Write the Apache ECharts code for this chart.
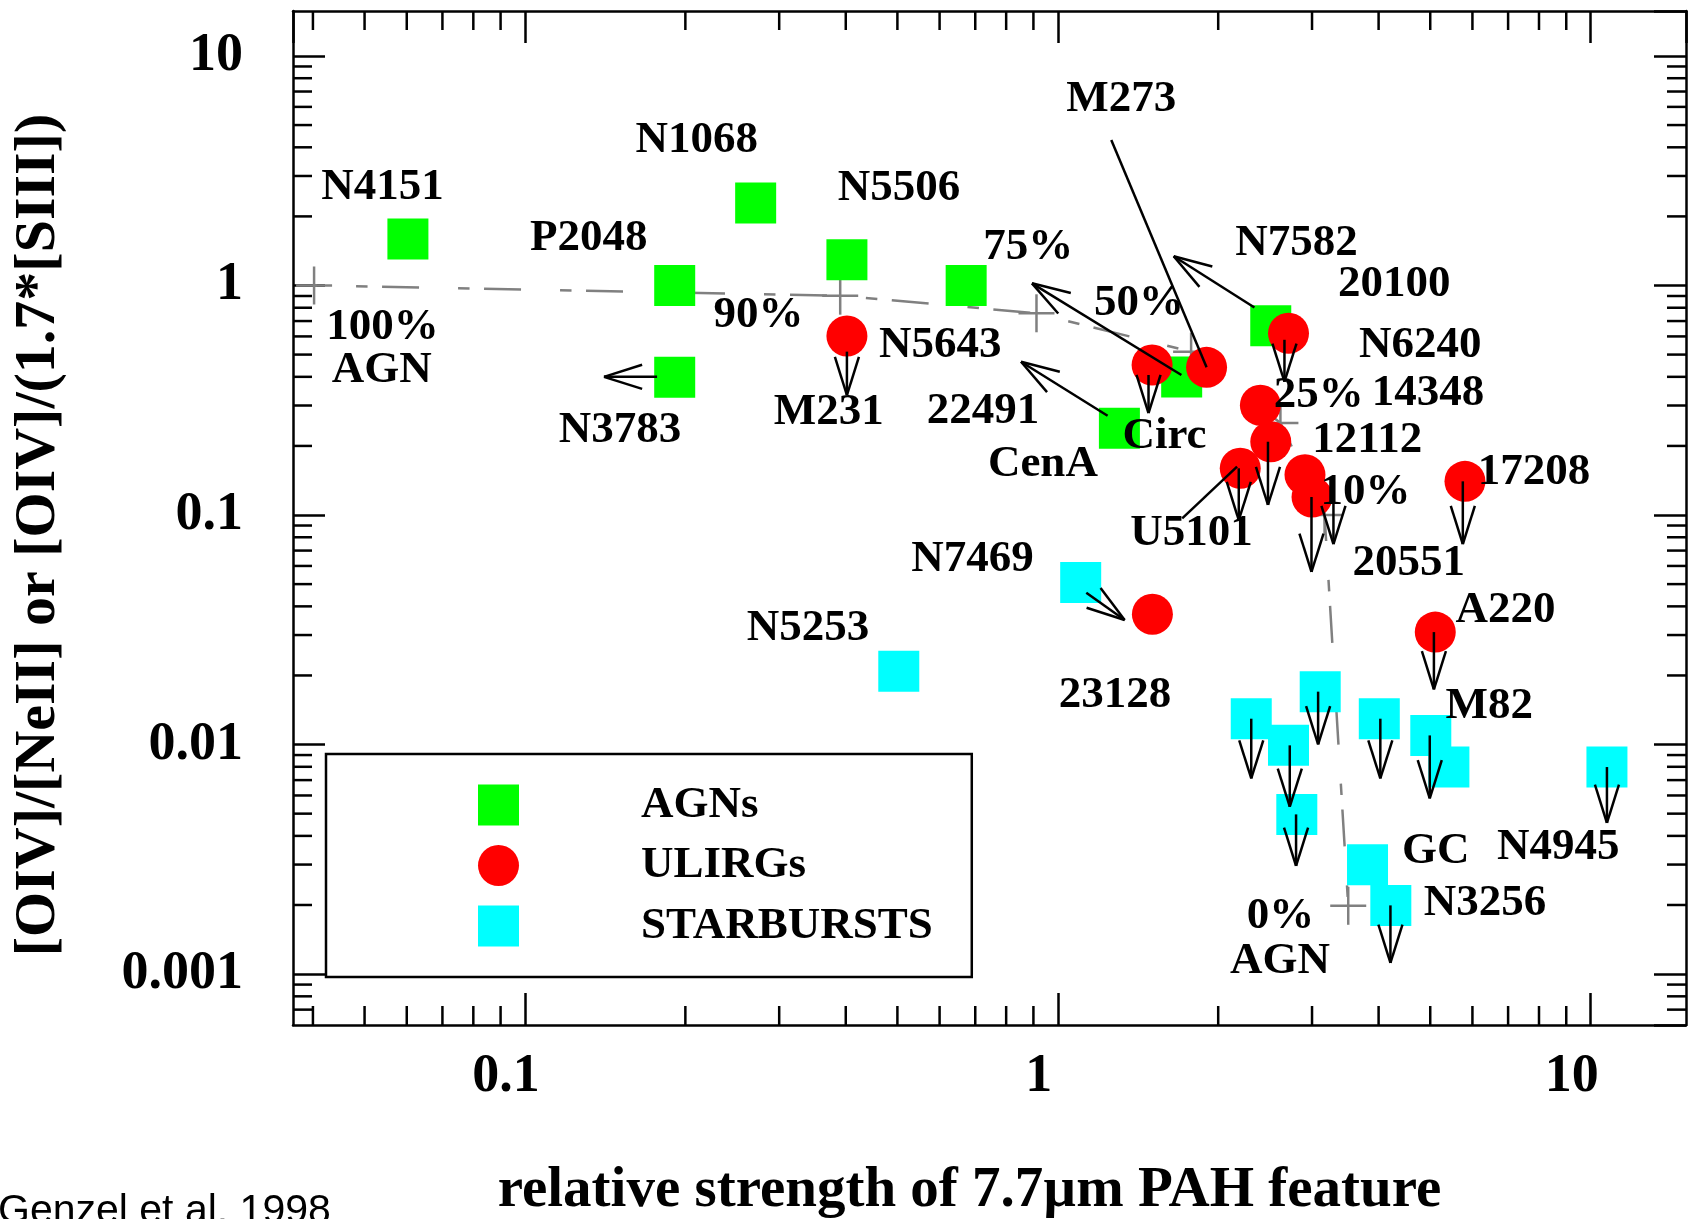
<!DOCTYPE html>
<html><head><meta charset="utf-8">
<script src="https://cdn.jsdelivr.net/npm/echarts@6/dist/echarts.min.js"></script>
<style>html,body{margin:0;padding:0;background:#fff}#c{width:1689px;height:1219px}</style>
</head><body><div id="c"></div>
<script>
// ---------------- data ----------------
// AGNs (green squares)
const agnX = [0.0603, 0.191, 0.271, 0.402, 0.673, 0.191, 1.305, 1.708, 2.51];
const agnY = [1.594, 1.0, 2.288, 1.295, 1.0, 0.398, 0.2386, 0.399, 0.6675];
// ULIRGs (red circles)
const ulirgX = [0.402, 1.503, 1.902, 2.71, 2.40, 2.51, 2.20, 2.91, 3.00, 5.81, 5.11, 1.505];
const ulirgY = [0.6026, 0.4503, 0.440, 0.619, 0.3006, 0.2086, 0.1598, 0.1498, 0.1198, 0.1402, 0.0309, 0.03696];
// Starbursts (cyan squares)
const sbX = [1.104, 0.503, 2.307, 2.71, 2.809, 3.108, 4.012, 5.012, 5.42, 10.73, 3.813, 4.217];
const sbY = [0.0508, 0.02088, 0.01296, 0.00992, 0.004963, 0.0170, 0.01296, 0.01096, 0.00798, 0.00798, 0.002994, 0.001992];
// AGN-fraction mixing line (100% ... 0%)
const mixX = [0.0402, 0.3905, 0.912, 1.779, 2.617, 3.167, 3.508];
const mixY = [1.0, 0.903, 0.7567, 0.5147, 0.2518, 0.1, 0.001984];
// arrows: [x1, y1, x2, y2, hasHead]
const arrows = [
  [0.402, 0.515, 0.402, 0.3333, 1],
  [1.48, 0.4074, 1.48, 0.2782, 1],
  [2.663, 0.58, 2.663, 0.381, 1],
  [2.48, 0.2086, 2.48, 0.1106, 1],
  [2.186, 0.1598, 2.186, 0.0951, 1],
  [2.993, 0.1198, 2.993, 0.0566, 1],
  [3.291, 0.1378, 3.291, 0.0747, 1],
  [5.756, 0.1402, 5.756, 0.0747, 1],
  [5.08, 0.0309, 5.08, 0.0174, 1],
  [2.307, 0.01296, 2.307, 0.00712, 1],
  [2.725, 0.00992, 2.725, 0.00536, 1],
  [2.80, 0.004963, 2.80, 0.002964, 1],
  [3.08, 0.0170, 3.08, 0.01002, 1],
  [4.03, 0.01296, 4.03, 0.00712, 1],
  [4.99, 0.01096, 4.99, 0.005829, 1],
  [10.73, 0.00798, 10.73, 0.004563, 1],
  [4.21, 0.001992, 4.21, 0.00112, 1],
  [0.177, 0.40, 0.1407, 0.40, 1],
  [1.24, 0.2708, 0.8532, 0.4656, 1],
  [1.706, 0.4074, 0.8945, 1.022, 1],
  [2.339, 0.802, 1.650, 1.341, 1],
  [1.131, 0.04587, 1.335, 0.03487, 1],
  [1.26, 4.305, 1.902, 0.44, 0],
  [1.712, 0.0967, 2.17, 0.1624, 0]
];
// text annotations: [text, x, y]
const annotations = [
  ['N4151', 0.05404, 2.741], ['100%', 0.05404, 0.6727], ['AGN', 0.05383, 0.437],
  ['P2048', 0.1317, 1.643], ['N3783', 0.1508, 0.2393], ['N1068', 0.21, 4.379],
  ['N5506', 0.5035, 2.722], ['90%', 0.2744, 0.7567], ['75%', 0.8805, 1.501],
  ['N5643', 0.6019, 0.5645], ['M231', 0.3718, 0.2868], ['22491', 0.7235, 0.2891],
  ['CenA', 0.9376, 0.1707], ['M273', 1.315, 6.648], ['50%', 1.421, 0.8577],
  ['Circ', 1.586, 0.2258], ['N7582', 2.806, 1.566], ['20100', 4.278, 1.039],
  ['N6240', 4.787, 0.5645], ['25%', 3.09, 0.3391], ['14348', 4.95, 0.3477],
  ['12112', 3.808, 0.2176], ['17208', 7.825, 0.1571], ['10%', 3.78, 0.1285],
  ['20551', 4.558, 0.06301], ['A220', 6.925, 0.03922], ['U5101', 1.782, 0.08517],
  ['M82', 6.454, 0.01497], ['GC', 5.122, 0.003516], ['N4945', 8.69, 0.003659],
  ['N3256', 6.338, 0.002074], ['0%', 2.617, 0.001823], ['AGN', 2.612, 0.00117],
  ['N7469', 0.6914, 0.06568], ['N5253', 0.3398, 0.03293], ['23128', 1.281, 0.01685]
];
// axis ticks
const xTickVals = [0.1, 1, 10];
const xTickText = ['0.1', '1', '10'];
const yTickVals = [0.001, 0.01, 0.1, 1, 10];
const yTickText = ['0.001', '0.01', '0.1', '1', '10'];
const xMinor = [0.04, 0.05, 0.06, 0.07, 0.08, 0.09, 0.2, 0.3, 0.4, 0.5, 0.6, 0.7, 0.8, 0.9, 2, 3, 4, 5, 6, 7, 8, 9];
const yMinor = [0.0007, 0.0008, 0.0009, 0.002, 0.003, 0.004, 0.005, 0.006, 0.007, 0.008, 0.009,
  0.02, 0.03, 0.04, 0.05, 0.06, 0.07, 0.08, 0.09, 0.2, 0.3, 0.4, 0.5, 0.6, 0.7, 0.8, 0.9, 2, 3, 4, 5, 6, 7, 8, 9];

// ---------------- chart ----------------
const SERIF = 'Liberation Serif';
const zip = (a, b) => a.map((v, i) => [v, b[i]]);
function tickFmt(vals, txt) {
  return v => { const i = vals.findIndex(t => Math.abs(Math.log10(v / t)) < 1e-6); return i >= 0 ? txt[i] : ''; };
}
const lineStyleBlack = { stroke: '#000', lineWidth: 2.5 };
const axisCommon = {
  type: 'log', logBase: 10,
  axisLine: { show: true, onZero: false, lineStyle: { color: '#000', width: 2.5 } },
  axisTick: { show: true, inside: true, length: 32, lineStyle: { color: '#000', width: 2.5 } },
  splitLine: { show: false }, minorTick: { show: false }
};
const chart = echarts.init(document.getElementById('c'), null, { renderer: 'canvas' });
chart.setOption({
  animation: false,
  backgroundColor: '#fff',
  grid: { left: 293, right: 3, top: 11, bottom: 194, containLabel: false, outerBoundsMode: 'none' },
  xAxis: [
    Object.assign({}, axisCommon, {
      position: 'bottom', min: 0.0367, max: 15.1,
      axisLabel: { show: true, fontFamily: SERIF, fontWeight: 'bold', fontSize: 54, color: '#000', margin: 25,
        padding: [0, 38, 0, 0], formatter: tickFmt(xTickVals, xTickText), showMinLabel: false, showMaxLabel: false },
      name: 'relative strength of 7.7µm PAH feature', nameLocation: 'middle', nameGap: 138,
      nameTextStyle: { fontFamily: SERIF, fontWeight: 'bold', fontSize: 57, color: '#000', padding: [0, 40, 0, 0] }
    }),
    Object.assign({}, axisCommon, { position: 'top', min: 0.0367, max: 15.1, axisLabel: { show: false } })
  ],
  yAxis: [
    Object.assign({}, axisCommon, {
      position: 'left', min: 0.0006, max: 15.7,
      axisLabel: { show: true, fontFamily: SERIF, fontWeight: 'bold', fontSize: 54, color: '#000', margin: 50,
        padding: [0, 0, 12, 0], formatter: tickFmt(yTickVals, yTickText), showMinLabel: false, showMaxLabel: false },
      name: '[OIV]/[NeII] or [OIV]/(1.7*[SIII])', nameLocation: 'middle', nameGap: 225, nameRotate: 90,
      nameTextStyle: { fontFamily: SERIF, fontWeight: 'bold', fontSize: 58, color: '#000', padding: [0, 34, 0, 0] }
    }),
    Object.assign({}, axisCommon, { position: 'right', min: 0.0006, max: 15.7, axisLabel: { show: false } })
  ],
  legend: {
    orient: 'vertical', left: 326, top: 754,
    data: ['AGNs', 'ULIRGs', 'STARBURSTS'],
    itemWidth: 41, itemHeight: 41, itemGap: 1.5,
    padding: [21.5, 39, 21.5, 152],
    borderColor: '#000', borderWidth: 2.5, backgroundColor: '#fff',
    selectedMode: false,
    textStyle: { fontFamily: SERIF, fontWeight: 'bold', fontSize: 45, color: '#000',
      backgroundColor: 'rgba(255,255,255,0)', padding: [0, 0, 14, 117] }
  },
  graphic: [{
    type: 'text', x: -2, y: 1191, silent: true,
    style: { text: 'Genzel et al. 1998', fontFamily: 'Liberation Sans', fontSize: 41, fill: '#000', verticalAlign: 'top', align: 'left' }
  }],
  series: [
    { type: 'line', name: 'mix', data: zip(mixX, mixY), symbol: 'none', silent: true, z: 1,
      lineStyle: { color: '#808080', width: 2.5, type: [37, 39, 11.5, 14.5], dashOffset: 34 } },
    { type: 'custom', name: 'crosses', data: zip(mixX, mixY), silent: true, z: 1,
      renderItem(params, api) {
        const p = api.coord([api.value(0), api.value(1)]);
        const st = { stroke: '#808080', lineWidth: 2.5 };
        return { type: 'group', children: [
          { type: 'line', shape: { x1: p[0] - 18, y1: p[1], x2: p[0] + 18, y2: p[1] }, style: st },
          { type: 'line', shape: { x1: p[0], y1: p[1] - 19, x2: p[0], y2: p[1] + 19 }, style: st }
        ] };
      } },
    { type: 'custom', name: 'xminor', data: xMinor.map(v => [v, 1]), silent: true, z: 5,
      renderItem(params, api) {
        const cs = params.coordSys; const x = api.coord([api.value(0), 1])[0];
        const b = cs.y + cs.height;
        return { type: 'group', children: [
          { type: 'line', shape: { x1: x, y1: b, x2: x, y2: b - 19 }, style: lineStyleBlack },
          { type: 'line', shape: { x1: x, y1: cs.y, x2: x, y2: cs.y + 19 }, style: lineStyleBlack }
        ] };
      } },
    { type: 'custom', name: 'yminor', data: yMinor.map(v => [1, v]), silent: true, z: 5,
      renderItem(params, api) {
        const cs = params.coordSys; const y = api.coord([1, api.value(1)])[1];
        const r = cs.x + cs.width;
        return { type: 'group', children: [
          { type: 'line', shape: { x1: cs.x, y1: y, x2: cs.x + 19, y2: y }, style: lineStyleBlack },
          { type: 'line', shape: { x1: r, y1: y, x2: r - 19, y2: y }, style: lineStyleBlack }
        ] };
      } },
    { type: 'scatter', name: 'AGNs', data: zip(agnX, agnY), symbol: 'rect', symbolSize: 41, z: 2, silent: true,
      itemStyle: { color: '#00ff00', opacity: 1 }, emphasis: { disabled: true } },
    { type: 'scatter', name: 'STARBURSTS', data: zip(sbX, sbY), symbol: 'rect', symbolSize: 41, z: 2, silent: true,
      itemStyle: { color: '#00ffff', opacity: 1 }, emphasis: { disabled: true } },
    { type: 'scatter', name: 'ULIRGs', data: zip(ulirgX, ulirgY), symbol: 'circle', symbolSize: 41, z: 2, silent: true,
      itemStyle: { color: '#ff0000', opacity: 1 }, emphasis: { disabled: true } },
    { type: 'custom', name: 'arrows', data: arrows.map(a => [a[0], a[1], a[2], a[3]]), encode: { x: [0, 2], y: [1, 3] },
      silent: true, z: 3,
      renderItem(params, api) {
        const a = arrows[params.dataIndex];
        const p1 = api.coord([a[0], a[1]]), p2 = api.coord([a[2], a[3]]);
        const ch = [{ type: 'line', shape: { x1: p1[0], y1: p1[1], x2: p2[0], y2: p2[1] }, style: lineStyleBlack }];
        if (a[4]) {
          const ang = Math.atan2(p1[1] - p2[1], p1[0] - p2[0]);
          const L = 40, h = 17.5 * Math.PI / 180;
          [ang - h, ang + h].forEach(t => ch.push({ type: 'line',
            shape: { x1: p2[0], y1: p2[1], x2: p2[0] + L * Math.cos(t), y2: p2[1] + L * Math.sin(t) }, style: lineStyleBlack }));
        }
        return { type: 'group', children: ch };
      } },
    { type: 'custom', name: 'labels', data: annotations.map(a => [a[1], a[2]]), silent: true, z: 4,
      renderItem(params, api) {
        const p = api.coord([api.value(0), api.value(1)]);
        return { type: 'text', x: p[0], y: p[1] + 2.5,
          style: { text: annotations[params.dataIndex][0], fontFamily: SERIF, fontWeight: 'bold', fontSize: 45,
            fill: '#000', align: 'center', verticalAlign: 'middle' } };
      } }
  ]
});
</script></body></html>
